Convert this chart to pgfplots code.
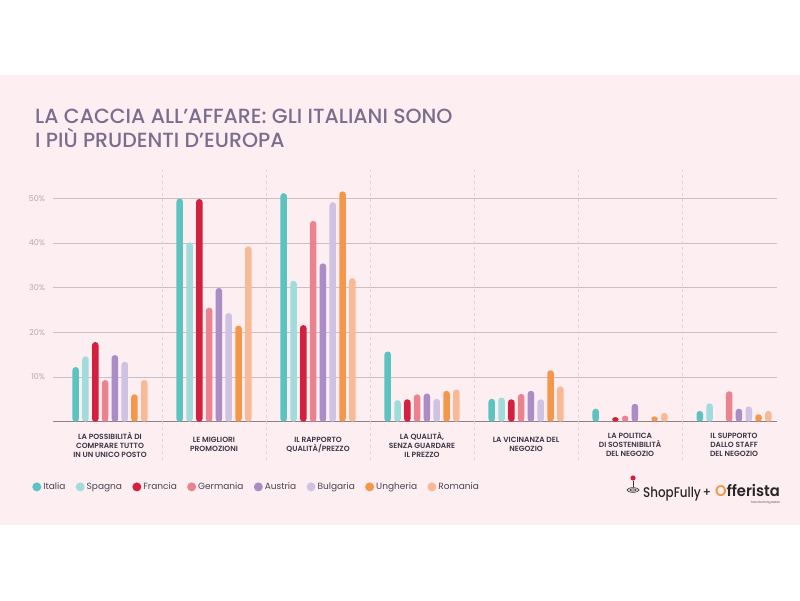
\documentclass[border=0pt]{standalone}
\usepackage{pgfplots}
\pgfplotsset{compat=1.18}
\usepackage{pgfplotstable}
\usepackage{graphicx}
\usepackage{fontspec}
\setmainfont{Poppins}
\newfontfamily\medfont{Poppins Medium}
\newfontfamily\semifont{Poppins SemiBold}

\definecolor{bgpink}{HTML}{FDEEF2}
\definecolor{titlec}{HTML}{7B6E8D}
\definecolor{cIT}{HTML}{5CC3C0}
\definecolor{cES}{HTML}{A1DCDC}
\definecolor{cFR}{HTML}{D3203E}
\definecolor{cDE}{HTML}{E8838F}
\definecolor{cAT}{HTML}{A98DC4}
\definecolor{cBG}{HTML}{CFC2E2}
\definecolor{cHU}{HTML}{F4974A}
\definecolor{cRO}{HTML}{F8B994}
\definecolor{basec}{HTML}{8E8287}
\definecolor{gridc}{HTML}{CDBEC3}
\definecolor{dashc}{HTML}{E6CFD5}
\definecolor{tickc}{HTML}{B5A9AE}
\definecolor{catc}{HTML}{3B3645}
\definecolor{legc}{HTML}{4A4550}

\pgfplotstableread{
x it es fr de at bg hu ro
0 12.2 14.6 17.8 9.3 14.9 13.4 6.1 9.3
1 49.9 40.1 49.8 25.5 29.9 24.3 21.5 39.2
2 51.1 31.5 21.6 44.9 35.4 49.1 51.5 32.1
3 15.7 4.8 5.0 6.1 6.3 5.1 6.9 7.2
4 5.1 5.4 5.0 6.2 6.9 5.0 11.5 7.9
5 2.9 nan 1.05 1.35 4.0 nan 1.2 1.95
6 2.4 4.1 nan 6.8 2.9 3.4 1.65 2.4
}\datatable

\begin{document}
\begin{tikzpicture}
\useasboundingbox (0pt,0pt) rectangle (800pt,600pt);
\fill[white] (0pt,0pt) rectangle (800pt,600pt);
\fill[bgpink] (0pt,75pt) rectangle (800pt,525pt);
\node[anchor=base west, inner sep=0pt, text=titlec, font=\medfont\fontsize{20.5}{24}\selectfont] at (35pt,476.7pt) {LA CACCIA ALL’AFFARE: GLI ITALIANI SONO};
\node[anchor=base west, inner sep=0pt, text=titlec, font=\medfont\fontsize{20.5}{24}\selectfont] at (35pt,452.3pt) {I PIÙ PRUDENTI D’EUROPA};

\begin{axis}[
  at={(53pt,178.3pt)}, anchor=south west,
  scale only axis, width=724pt, height=251.7pt,
  xmin=-0.548, xmax=6.413, ymin=0, ymax=56.3,
  clip=false,
  axis x line*=bottom, axis y line*=left,
  x axis line style={draw=basec, line width=1.1pt, -},
  y axis line style={draw=none, -},
  major tick length=0pt,
  ytick={10,20,30,40,50},
  yticklabels={10\%,20\%,30\%,40\%,50\%},
  yticklabel style={font=\fontsize{8}{9}\selectfont, text=tickc, anchor=east, xshift=-4.5pt},
  ymajorgrids, grid style={draw=gridc, line width=0.7pt},
  xtick={0,1,2,3,4,5,6},
  xticklabels={{LA POSSIBILITÀ DI\\COMPRARE TUTTO\\IN UN UNICO POSTO},
               {LE MIGLIORI\\PROMOZIONI},
               {IL RAPPORTO\\QUALITÀ/PREZZO},
               {LA QUALITÀ,\\SENZA GUARDARE\\IL PREZZO},
               {LA VICINANZA DEL\\NEGOZIO},
               {LA POLITICA\\DI SOSTENIBILITÀ\\DEL NEGOZIO},
               {IL SUPPORTO\\DALLO STAFF\\DEL NEGOZIO}},
  xticklabel style={font=\semifont\fontsize{7.5}{9}\selectfont, text=catc, align=center, anchor=center, yshift=-23pt},
  ybar, bar width=6.5pt,
  every axis plot/.append style={draw=none, rounded corners=3pt},
  legend columns=8,
  legend style={draw=none, fill=none, at={(-0.033,-0.259)}, anchor=west,
    font=\fontsize{9}{10}\selectfont, text=legc,
    /tikz/every odd column/.append style={column sep=0pt},
    /tikz/every even column/.append style={column sep=8.3pt}},
]
\addplot[forget plot, sharp plot, draw=dashc, line width=0.6pt, dash pattern=on 3pt off 3pt, rounded corners=0pt] coordinates {(0.5,-8.6) (0.5,56.3)};
\addplot[forget plot, sharp plot, draw=dashc, line width=0.6pt, dash pattern=on 3pt off 3pt, rounded corners=0pt] coordinates {(1.5,-8.6) (1.5,56.3)};
\addplot[forget plot, sharp plot, draw=dashc, line width=0.6pt, dash pattern=on 3pt off 3pt, rounded corners=0pt] coordinates {(2.5,-8.6) (2.5,56.3)};
\addplot[forget plot, sharp plot, draw=dashc, line width=0.6pt, dash pattern=on 3pt off 3pt, rounded corners=0pt] coordinates {(3.5,-8.6) (3.5,56.3)};
\addplot[forget plot, sharp plot, draw=dashc, line width=0.6pt, dash pattern=on 3pt off 3pt, rounded corners=0pt] coordinates {(4.5,-8.6) (4.5,56.3)};
\addplot[forget plot, sharp plot, draw=dashc, line width=0.6pt, dash pattern=on 3pt off 3pt, rounded corners=0pt] coordinates {(5.5,-8.6) (5.5,56.3)};

\addplot[forget plot, fill=cIT, draw=none, bar shift=-34.3pt] table[x=x,y=it] {\datatable};
\addplot[forget plot, fill=cES, draw=none, bar shift=-24.5pt] table[x=x,y=es] {\datatable};
\addplot[forget plot, fill=cFR, draw=none, bar shift=-14.7pt] table[x=x,y=fr] {\datatable};
\addplot[forget plot, fill=cDE, draw=none, bar shift=-4.9pt] table[x=x,y=de] {\datatable};
\addplot[forget plot, fill=cAT, draw=none, bar shift=4.9pt] table[x=x,y=at] {\datatable};
\addplot[forget plot, fill=cBG, draw=none, bar shift=14.7pt] table[x=x,y=bg] {\datatable};
\addplot[forget plot, fill=cHU, draw=none, bar shift=24.5pt] table[x=x,y=hu] {\datatable};
\addplot[forget plot, fill=cRO, draw=none, bar shift=34.3pt] table[x=x,y=ro] {\datatable};

\addlegendimage{legend image code/.code={\fill[cIT] (4.5pt,0pt) circle (4.5pt);}}
\addlegendentry{Italia}
\addlegendimage{legend image code/.code={\fill[cES] (4.5pt,0pt) circle (4.5pt);}}
\addlegendentry{Spagna}
\addlegendimage{legend image code/.code={\fill[cFR] (4.5pt,0pt) circle (4.5pt);}}
\addlegendentry{Francia}
\addlegendimage{legend image code/.code={\fill[cDE] (4.5pt,0pt) circle (4.5pt);}}
\addlegendentry{Germania}
\addlegendimage{legend image code/.code={\fill[cAT] (4.5pt,0pt) circle (4.5pt);}}
\addlegendentry{Austria}
\addlegendimage{legend image code/.code={\fill[cBG] (4.5pt,0pt) circle (4.5pt);}}
\addlegendentry{Bulgaria}
\addlegendimage{legend image code/.code={\fill[cHU] (4.5pt,0pt) circle (4.5pt);}}
\addlegendentry{Ungheria}
\addlegendimage{legend image code/.code={\fill[cRO] (4.5pt,0pt) circle (4.5pt);}}
\addlegendentry{Romania}
\end{axis}

% logo
\fill[cFR] (633pt,122pt) circle (2.6pt);
\draw[black!80, line width=0.8pt] (633pt,119pt) -- (633pt,113pt);
\draw[black!80, line width=0.7pt] (633pt,110pt) ellipse (6pt and 2.3pt);
\draw[black!80, line width=0.7pt] (633pt,110pt) ellipse (3pt and 1.1pt);
\node[anchor=base west, inner sep=0pt, font=\medfont\fontsize{14}{14}\selectfont, text=black!85] at (643pt,103pt) {\scalebox{0.85}[1]{ShopFully}};
\node[anchor=base, inner sep=0pt, font=\medfont\fontsize{12}{12}\selectfont, text=black!85] at (707pt,104pt) {+};
\node[anchor=base west, inner sep=0pt, font=\semifont\fontsize{15.5}{15}\selectfont, text=black!85] at (715pt,104pt) {\scalebox{0.95}[1]{\textcolor{cHU}{O}fferista}};
\node[anchor=base east, inner sep=0pt, font=\fontsize{3}{3}\selectfont, text=black!70] at (780pt,97pt) {Transforming Retail};
\end{tikzpicture}
\end{document}
